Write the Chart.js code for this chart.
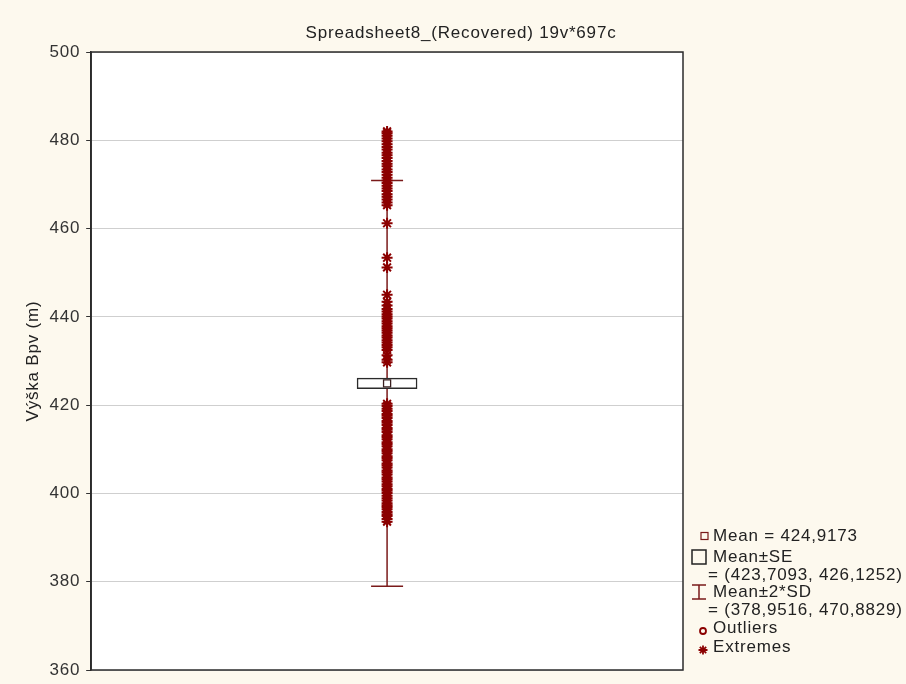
<!DOCTYPE html>
<html lang="cs">
<head>
    <meta charset="UTF-8">
    <title>Spreadsheet8_(Recovered) 19v*697c</title>
    <script src="https://cdn.jsdelivr.net/npm/chart.js"></script>
    <style>
        html, body { margin: 0; padding: 0; background: #fdf9ee; }
        #wrap { width: 906px; height: 684px; }
    </style>
</head>
<body>
    <div id="wrap">
        <canvas id="boxChart" width="906" height="684"></canvas>
    </div>

    <script>
        // --- data ---
        const categories = ['Výška Bpv (m)'];
        const chartTitle = 'Spreadsheet8_(Recovered) 19v*697c';
        const yAxisTitle = 'Výška Bpv (m)';

        const meanValue = 424.9173;
        const seLow = 423.7093;
        const seHigh = 426.1252;
        const sdLow = 378.9516;
        const sdHigh = 470.8829;

        const outlierValues = [];
        const extremeValues = [
            393.6, 394.2, 394.9, 395.3, 395.8, 396.4, 396.9, 397.3, 397.8, 398.4,
            398.9, 399.5, 400.1, 400.6, 401.0, 401.6, 402.1, 402.7, 403.2, 403.6,
            404.3, 404.8, 405.2, 405.9, 406.4, 406.8, 407.5, 408.0, 408.4, 409.1,
            409.6, 410.0, 410.7, 411.2, 411.6, 412.3, 412.8, 413.2, 413.9, 414.4,
            414.8, 415.5, 416.0, 416.4, 417.1, 417.6, 418.0, 418.7, 419.2, 419.8,
            420.3,
            429.7, 430.3, 431.3, 432.5, 433.1, 433.6, 434.2, 434.7, 435.3, 435.8,
            436.4, 436.9, 437.4, 437.9, 438.5, 439.0, 439.6, 440.1, 440.6, 441.2,
            441.8, 442.6, 443.4, 445.0,
            451.2, 453.4, 461.2,
            465.3, 465.9, 466.6, 467.2, 467.8, 468.5, 469.1, 469.7, 470.3, 470.9,
            471.5, 472.2, 472.8, 473.4, 474.1, 474.7, 475.3, 476.0, 476.6, 477.2,
            477.9, 478.5, 479.1, 479.8, 480.4, 481.0, 481.6, 482.0
        ];

        const yMin = 360;
        const yMax = 500;
        const yStep = 20;

        // decimal comma like the original
        function fmt(v) { return v.toFixed(4).replace('.', ','); }
        const legendRows = [
            'Mean = ' + fmt(meanValue),
            'Mean±SE',
            '= (' + fmt(seLow) + ', ' + fmt(seHigh) + ')',
            'Mean±2*SD',
            '= (' + fmt(sdLow) + ', ' + fmt(sdHigh) + ')',
            'Outliers',
            'Extremes'
        ];

        const FONT = '"Liberation Sans", Arial, sans-serif';
        const SPACING = '0.8px';
        const DARK_RED = '#8b0000';
        const WHISKER = '#7a1a1a';

        const cat = categories[0];
        const pts = arr => arr.map(v => ({ x: cat, y: v }));

        // the original text is a bit wider than plain Arial
        const spacingPlugin = {
            id: 'spacing',
            beforeLayout(chart) { chart.ctx.letterSpacing = SPACING; },
            beforeDraw(chart) { chart.ctx.letterSpacing = SPACING; }
        };

        // background + white plot area
        const backgroundPlugin = {
            id: 'bg',
            beforeDraw(chart) {
                const { ctx, chartArea: a } = chart;
                ctx.save();
                ctx.fillStyle = '#fdf9ee';
                ctx.fillRect(0, 0, chart.width, chart.height);
                ctx.fillStyle = '#ffffff';
                ctx.fillRect(a.left, a.top, a.right - a.left, a.bottom - a.top);
                ctx.restore();
            }
        };

        // title (centred on the whole picture), frame and legend on the right
        const framePlugin = {
            id: 'frame',
            afterDraw(chart) {
                const { ctx, chartArea: a } = chart;
                ctx.save();
                ctx.letterSpacing = SPACING;
                ctx.fillStyle = '#222';
                ctx.font = '17px ' + FONT;
                ctx.textAlign = 'center';
                ctx.textBaseline = 'middle';
                ctx.fillText(chartTitle, 461, 33);

                ctx.strokeStyle = '#2b2b2b';
                ctx.lineWidth = 1.5;
                ctx.strokeRect(a.left, a.top, a.right - a.left, a.bottom - a.top);

                // legend
                const lx = 692;
                ctx.textAlign = 'left';
                const rowY = [536, 557, 575, 592, 610, 628, 647];
                const textX = [lx + 21, lx + 21, lx + 16, lx + 21, lx + 16, lx + 21, lx + 21];
                legendRows.forEach((t, i) => ctx.fillText(t, textX[i], rowY[i]));

                // mean marker
                ctx.lineWidth = 1.2;
                ctx.strokeStyle = '#7a1a1a';
                ctx.strokeRect(lx + 9, rowY[0] - 3.5, 7, 7);
                // SE box marker
                ctx.strokeStyle = '#222';
                ctx.lineWidth = 1.5;
                ctx.strokeRect(lx, rowY[1] - 7, 14, 14);
                // whisker marker
                ctx.strokeStyle = WHISKER;
                ctx.beginPath();
                ctx.moveTo(lx, rowY[3] - 7); ctx.lineTo(lx + 14, rowY[3] - 7);
                ctx.moveTo(lx + 7, rowY[3] - 7); ctx.lineTo(lx + 7, rowY[3] + 7);
                ctx.moveTo(lx, rowY[3] + 7); ctx.lineTo(lx + 14, rowY[3] + 7);
                ctx.stroke();
                // outlier marker
                ctx.strokeStyle = DARK_RED;
                ctx.lineWidth = 1.8;
                ctx.beginPath();
                ctx.arc(lx + 11, rowY[5] + 3, 3, 0, Math.PI * 2);
                ctx.stroke();
                // extremes marker
                const sx = lx + 11, sy = rowY[6] + 3, r = 4.5;
                ctx.beginPath();
                for (let k = 0; k < 4; k++) {
                    const ang = k * Math.PI / 4;
                    ctx.moveTo(sx - r * Math.cos(ang), sy - r * Math.sin(ang));
                    ctx.lineTo(sx + r * Math.cos(ang), sy + r * Math.sin(ang));
                }
                ctx.stroke();
                ctx.restore();
            }
        };

        const ctx = document.getElementById('boxChart').getContext('2d');
        new Chart(ctx, {
            type: 'bar',
            data: {
                labels: categories,
                datasets: [
                    {
                        // Mean ± SE box
                        label: 'Mean±SE',
                        data: [[seLow, seHigh]],
                        backgroundColor: '#ffffff',
                        borderColor: '#2b2b2b',
                        borderWidth: 1.5,
                        borderSkipped: false,
                        barThickness: 60,
                        order: 2
                    },
                    {
                        label: 'Mean',
                        type: 'line',
                        data: pts([meanValue]),
                        showLine: false,
                        pointStyle: 'rect',
                        pointRadius: 5,
                        pointBackgroundColor: '#ffffff',
                        pointBorderColor: '#3a2020',
                        pointBorderWidth: 1.3,
                        order: 1
                    },
                    {
                        label: 'Mean±2*SD',
                        type: 'line',
                        data: pts([sdLow, sdHigh]),
                        borderColor: WHISKER,
                        borderWidth: 1.5,
                        pointRadius: 0,
                        order: 6
                    },
                    {
                        label: 'caps',
                        type: 'line',
                        data: pts([sdLow, sdHigh]),
                        showLine: false,
                        pointStyle: 'line',
                        pointRadius: 16,
                        pointBorderColor: WHISKER,
                        pointBorderWidth: 1.5,
                        order: 5
                    },
                    {
                        label: 'Outliers',
                        type: 'line',
                        data: pts(outlierValues),
                        showLine: false,
                        pointStyle: 'circle',
                        pointRadius: 3,
                        pointBorderColor: DARK_RED,
                        order: 4
                    },
                    {
                        label: 'Extremes',
                        type: 'line',
                        data: pts(extremeValues),
                        showLine: false,
                        pointStyle: 'star',
                        pointRadius: 5.5,
                        pointBorderColor: DARK_RED,
                        pointBorderWidth: 2,
                        order: 3
                    }
                ]
            },
            options: {
                responsive: false,
                animation: false,
                events: [],
                layout: {
                    autoPadding: false,
                    padding: { left: 0, right: 223, top: 52, bottom: 14 }
                },
                plugins: {
                    legend: { display: false },
                    tooltip: { enabled: false },
                    title: { display: false }
                },
                scales: {
                    x: {
                        display: false,
                        offset: true
                    },
                    y: {
                        min: yMin,
                        max: yMax,
                        afterFit(scale) { scale.paddingBottom = 0; },
                        ticks: {
                            stepSize: yStep,
                            color: '#333',
                            padding: 6,
                            font: { family: FONT, size: 17, lineHeight: 1 }
                        },
                        grid: {
                            color: '#cfcfcf',
                            tickColor: '#333',
                            tickLength: 5
                        },
                        border: { display: true, color: '#2b2b2b', width: 1.5 },
                        title: {
                            display: true,
                            text: yAxisTitle,
                            color: '#222',
                            font: { family: FONT, size: 17 },
                            padding: { top: 23, bottom: 0 }
                        }
                    }
                }
            },
            plugins: [spacingPlugin, backgroundPlugin, framePlugin]
        });
    </script>
</body>
</html>
